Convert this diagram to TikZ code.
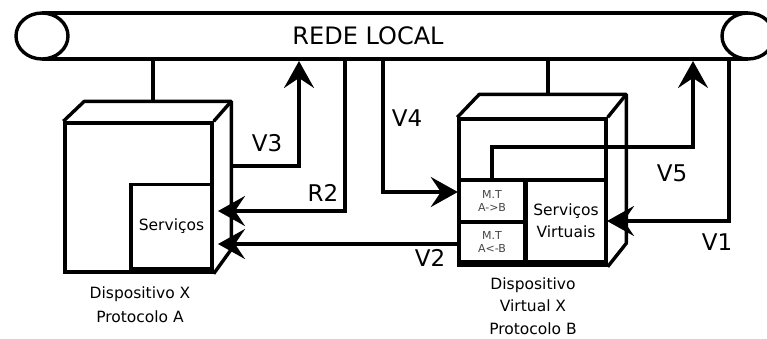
\documentclass[tikz,border=0pt]{standalone}
\usepackage{fontspec}
\setmainfont{DejaVu Sans}
\usetikzlibrary{positioning,arrows.meta,calc}
\definecolor{mtgray}{RGB}{70,70,70}

\begin{document}
\begin{tikzpicture}[x=1pt,y=-1pt,
  wire/.style={line width=3.4pt},
  flow/.style={wire,-{Stealth[length=27pt,width=30pt,inset=10pt]}},
  face/.style={draw,line width=3.4pt,fill=white,inner sep=0pt},
  lbl/.style={font=\fontsize{23}{23}\selectfont}]
  \useasboundingbox (0,0) rectangle (767,338);

  % rede local
  \draw[wire] (42,13) -- (748,13);
  \draw[wire] (42,59) -- (748,59);
  \draw[wire,fill=white] (42,36) ellipse (26pt and 23pt);
  \draw[wire] (748,36) ellipse (26pt and 23pt);
  \node[font=\fontsize{24}{24}\selectfont] (rede) at (368,36) {REDE LOCAL};
  \coordinate (tapA) at (153,59);
  \coordinate (tapR2) at (345,59);
  \coordinate (tapV4) at (383,59);
  \coordinate (tapB) at (548,59);
  \coordinate (tapV1) at (729,59);
  \coordinate (inV3) at (299,61);
  \coordinate (inV5) at (693,61);

  % dispositivo X
  \node[face,minimum width=147pt,minimum height=149pt] (devA) at (138.5,197.5) {};
  \draw[wire,line join=round] (devA.north west) -- ++(21,-20) coordinate (topA) -- ++(147,0) coordinate (backA)
    -- ++(0,148) -- (devA.south east);
  \draw[wire] (devA.north east) -- (backA);
  \node[face,minimum width=81pt,minimum height=84pt,font=\fontsize{15.5}{15.5}\selectfont]
    (srvA) at (171.5,226.5) {Serviços};
  \node[font=\fontsize{15.5}{24}\selectfont,align=center] (capA) at (140,305)
    {Dispositivo X\\Protocolo A};
  \draw[wire] (tapA) -- (tapA |- topA);

  % dispositivo virtual X
  \node[face,minimum width=147pt,minimum height=146pt] (devB) at (532.5,192) {};
  \draw[wire,line join=round] (devB.north west) -- ++(22,-23) coordinate (topB) -- ++(147,0) coordinate (backB)
    -- ++(0,149) -- (devB.south east);
  \draw[wire] (devB.north east) -- (backB);
  \node[face,minimum width=65pt,minimum height=42pt,align=center,text=mtgray,
    font=\fontsize{11}{13}\selectfont] (mtAB) at (492,201) {M.T\\A->B};
  \node[face,minimum width=65pt,minimum height=40pt,align=center,text=mtgray,
    font=\fontsize{11}{13}\selectfont] (mtBA) at (492,242) {M.T\\A<-B};
  \node[face,minimum width=80pt,minimum height=82pt,align=center,
    font=\fontsize{15.5}{22}\selectfont] (srvB) at (566,221) {Serviços\\Virtuais};
  \node[font=\fontsize{15.5}{22.5}\selectfont,align=center] (capB) at (533,306)
    {Dispositivo\\Virtual X\\Protocolo B};
  \draw[wire] (tapB) -- (tapB |- topB);

  % fluxos
  \coordinate (outV3) at (233,166);
  \draw[flow] (outV3) -| (inV3);
  \node[lbl] (lV3) at (267,143) {V3};
  \draw[flow] (tapR2) |- (218,211) coordinate (inR2);
  \node[lbl] (lR2) at (323,193) {R2};
  \coordinate (outV2) at (459,244);
  \draw[flow] (outV2) -- (218,244) coordinate (inV2);
  \node[lbl] (lV2) at (430,258) {V2};
  \draw[flow] (tapV4) |- (mtAB.west |- 0,192);
  \node[lbl] (lV4) at (407,118) {V4};
  \draw[flow] (mtAB.north) |- (693,147) -- (inV5);
  \node[lbl] (lV5) at (672,173) {V5};
  \draw[flow] (tapV1) |- (607,221) coordinate (inV1);
  \node[lbl] (lV1) at (717,242) {V1};
\end{tikzpicture}
\end{document}
